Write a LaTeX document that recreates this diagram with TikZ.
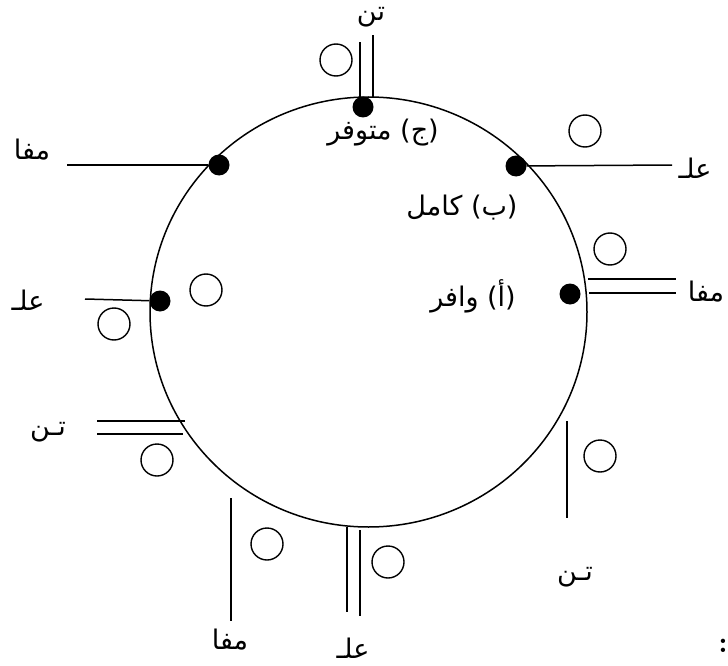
\documentclass[tikz,border=0pt]{standalone}
\usepackage{fontspec}
\newfontfamily\arabicfont[Script=Arabic]{DejaVu Sans}
\TeXXeTstate=1
\usepackage{tikz}
\usetikzlibrary{positioning}
\newcommand{\artxt}[1]{\arabicfont\beginR #1\endR}

\begin{document}
\begin{tikzpicture}[x=1pt, y=-1pt,
  lbl/.style={font=\fontsize{27}{30}\selectfont, inner sep=0pt},
  dotmark/.style={circle, fill=black, minimum size=21pt, inner sep=0pt},
  ring/.style={circle, draw, line width=1.4pt, minimum size=32pt, inner sep=0pt},
  leg/.style={line width=1.5pt}
]
\useasboundingbox (0,0) rectangle (728,666);
\draw[line width=1.5pt] (368.5,312) ellipse [x radius=218.5, y radius=215];

% feet on the circle
\node[dotmark] (dotj) at (363,107) {};
\node[dotmark] (dotb) at (516,166) {};
\node[dotmark] (dota) at (570,294) {};
\node[dotmark] (dotm) at (219,165) {};
\node[dotmark] (dotl) at (160,301) {};

\node[lbl] (namej) at (383,133) {\artxt{(ج) متوفر}};
\node[lbl] (nameb) at (462,208) {\artxt{(ب) كامل}};
\node[lbl] (namea) at (473,296) {\artxt{(أ) وافر}};

% strokes
\coordinate (tj1) at (360,97);  \coordinate (ej1) at (360,42);
\coordinate (tj2) at (373,97);  \coordinate (ej2) at (373,35);
\draw[leg] (tj1) -- (ej1);
\draw[leg] (tj2) -- (ej2);
\coordinate (eb) at (672,165);
\draw[leg] (dotb) -- (eb);
\coordinate (ta1) at (588,279); \coordinate (ea1) at (676,279);
\coordinate (ta2) at (589,293); \coordinate (ea2) at (676,293);
\draw[leg] (ta1) -- (ea1);
\draw[leg] (ta2) -- (ea2);
\coordinate (em) at (67,165);
\draw[leg] (dotm) -- (em);
\coordinate (el) at (85,299);
\draw[leg] (dotl) -- (el);
\coordinate (tn1) at (185,421); \coordinate (en1) at (97,421);
\coordinate (tn2) at (183,434); \coordinate (en2) at (97,434);
\draw[leg] (tn1) -- (en1);
\draw[leg] (tn2) -- (en2);
\coordinate (tr) at (567,421); \coordinate (er) at (567,518);
\draw[leg] (tr) -- (er);
\coordinate (tf) at (231,498); \coordinate (ef) at (231,621);
\draw[leg] (tf) -- (ef);
\coordinate (tb1) at (347,527); \coordinate (eb1) at (347,612);
\coordinate (tb2) at (360,530); \coordinate (eb2) at (360,616);
\draw[leg] (tb1) -- (eb1);
\draw[leg] (tb2) -- (eb2);

% open rings
\node[ring] (r1) at (336,60) {};
\node[ring] (r2) at (585,131) {};
\node[ring] (r3) at (610,249) {};
\node[ring] (r4) at (206,290) {};
\node[ring] (r5) at (114,324) {};
\node[ring] (r6) at (157,460) {};
\node[ring] (r7) at (600,456) {};
\node[ring] (r8) at (267,544) {};
\node[ring] (r9) at (388,562) {};

% syllables
\node[lbl] (s1) at (371,17) {\artxt{تن}};
\node[lbl] (s2) at (695,168) {\artxt{علـ}};
\node[lbl] (s3) at (706,292) {\artxt{مفا}};
\node[lbl] (s4) at (32,150) {\artxt{مفا}};
\node[lbl] (s5) at (28,300) {\artxt{علـ}};
\node[lbl] (s6) at (48,432) {\artxt{تـن}};
\node[lbl] (s7) at (575,577) {\artxt{تـن}};
\node[lbl] (s8) at (230,640) {\artxt{مفا}};
\node[lbl] (s9) at (353,648) {\artxt{علـ}};
\node[lbl, font=\fontsize{30}{32}\selectfont\bfseries] (colon) at (723,646) {:};
\end{tikzpicture}
\end{document}
